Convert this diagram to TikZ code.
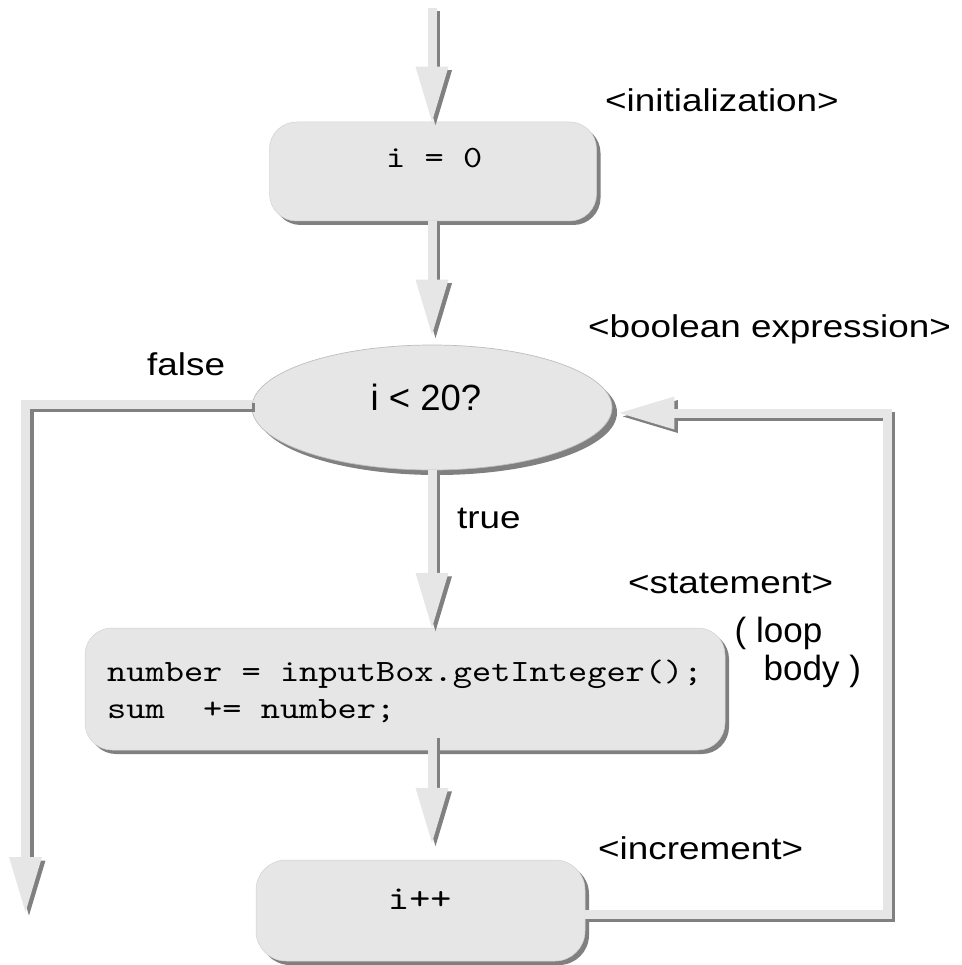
\documentclass[tikz,border=0pt]{standalone}
\usepackage{fontspec}
\setmainfont{Liberation Sans}
\newfontfamily\lblfont[FakeStretch=1.17]{Liberation Sans}
\newfontfamily\codefont[FakeStretch=1.18]{lmmono10-regular.otf}
\usetikzlibrary{arrows.meta,shapes.geometric,shadows}
\definecolor{boxfill}{HTML}{E6E6E6}
\definecolor{shade}{HTML}{808080}
\definecolor{rim}{HTML}{BDBDBD}
\definecolor{boxrim}{HTML}{D2D2D2}
\tikzset{
  procbox/.style={rectangle, rounded corners=27pt, fill=boxfill, draw=boxrim, line width=0.5pt, inner sep=0pt,
    drop shadow={shadow xshift=4pt, shadow yshift=-4pt, fill=shade, opacity=1}},
  decision/.style={ellipse, fill=boxfill, draw=rim, line width=0.7pt, inner sep=0pt,
    drop shadow={shadow xshift=5pt, shadow yshift=-5pt, fill=shade, opacity=1}},
  lbl/.style={font=\lblfont\fontsize{31.5}{36}\selectfont, inner sep=0pt, anchor=base west},
  codetxt/.style={font=\codefont\fontsize{31}{37}\selectfont, inner sep=0pt},
  headtip/.style={-{Triangle[width=33pt,length=55pt,line width=0pt]}},
  lightline/.style={draw=boxfill, line width=9pt, headtip},
  shadeline/.style={draw=shade, line width=9pt, headtip, transform canvas={xshift=3.5pt,yshift=-3.5pt}},
}
\newcommand{\flowconn}[2][]{\draw[shadeline,#1] #2; \draw[lightline,#1] #2;}
\begin{document}
\begin{tikzpicture}[x=1pt,y=-1pt]
\useasboundingbox (0,0) rectangle (961,965);
% nodes
\node[procbox, minimum width=327pt, minimum height=99pt] (init) at (433,171.5) {};
\node[decision, minimum width=360pt, minimum height=125pt] (cond) at (432,407.5) {};
\node[procbox, minimum width=640pt, minimum height=122pt] (stmt) at (405,689) {};
\node[procbox, rounded corners=30pt, minimum width=329pt, minimum height=101pt] (inc) at (420.5,910.5) {};
% texts inside shapes
\node[codetxt, anchor=base west] (initcode) at (386,168) {i = 0};
\node[font=\fontsize{36.5}{40}\selectfont, inner sep=0pt, anchor=base] (condtext) at (426,410) {i < 20?};
\node[codetxt, anchor=west, align=left] (stmtcode) at (107,691) {number = inputBox.getInteger();\\sum\ \ += number;};
\node[font=\codefont\fontsize{34}{37}\selectfont, inner sep=0pt, anchor=base west] (inccode) at (388,909) {i++};
% labels
\node[lbl] (linit) at (605,112) {<initialization>};
\node[lbl] (lbool) at (588,337) {<boolean expression>};
\node[lbl] (lfalse) at (147,375) {false};
\node[lbl] (ltrue) at (457,528) {true};
\node[lbl] (lstmt) at (628,593) {<statement>};
\node[font=\fontsize{35}{38}\selectfont, inner sep=0pt, anchor=north west, align=left] (lbody) at (734.5,617) {( loop\\\hspace*{29pt}body )};
\node[lbl] (linc) at (598,859) {<increment>};
% connectors
\coordinate (entry) at (432,8);
\coordinate (exit) at (25.5,912);
\coordinate (loopturn) at (887,413);
\flowconn{(entry) -- (entry |- init.north)}
\flowconn[shorten >=10pt]{(init.south -| cond.north) -- (cond.north)}
\flowconn{(cond.south) -- (cond.south |- stmt.north)}
\flowconn[shorten >=17pt]{([yshift=16pt]stmt.south -| cond.south) -- (cond.south |- inc.north)}
\flowconn{([yshift=3.5pt]cond.west) -| (exit)}
\flowconn[shorten >=7pt]{([yshift=-3.5pt]inc.east) -| (loopturn) -- ([yshift=-5.5pt]cond.east)}
\end{tikzpicture}
\end{document}
